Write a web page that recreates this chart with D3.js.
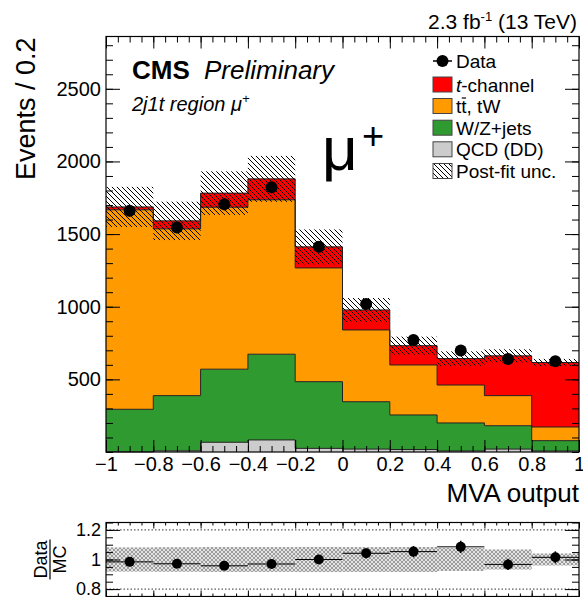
<!DOCTYPE html>
<html>
<head>
<meta charset="utf-8">
<script src="https://cdn.jsdelivr.net/npm/d3@7"></script>
<style>
  body { margin: 0; background: #fff; }
  svg { display: block; }
</style>
</head>
<body>
<div id="chart"></div>
<script>
// Canvas size
const width = 583;
const height = 597;
const font = "'Liberation Sans', Arial, Helvetica, sans-serif";

// MVA output binning and tick labels
const binEdges = [-1, -0.8, -0.6, -0.4, -0.2, 0, 0.2, 0.4, 0.6, 0.8, 1];
const xTicks = [-1, -0.8, -0.6, -0.4, -0.2, 0, 0.2, 0.4, 0.6, 0.8, 1];
const yTicks = [500, 1000, 1500, 2000, 2500];
const ratioTicks = [0.8, 1, 1.2];

// Stacked predictions, events per bin
const qcd    = [1, 8, 67, 83, 25, 20, 17, 7, 20, 7];
const wzjets = [293, 380, 503, 590, 459, 326, 238, 193, 161, 71];
const ttbar  = [1373, 1148, 1115, 1063, 783, 494, 344, 261, 207, 94];
const tchan  = [20, 55, 97, 144, 145, 138, 133, 182, 274, 444];

// Post-fit uncertainty on the total prediction (events)
const postFitUnc = [138, 132, 150, 158, 120, 82, 62, 50, 45, 25];

// Observed data
const data = [1660, 1545, 1706, 1823, 1412, 1019, 771, 698, 640, 625];

// Legend entries
const legendNames = ["Data", "t-channel", "tt, tW", "W/Z+jets", "QCD (DD)", "Post-fit unc."];

const colors = {qcd: "#cccccc", wz: "#2f9a2f", tt: "#ff9a00", tch: "#ff0000"};

// panel positions
const plot = {left: 106, right: 579, top: 36.5, bottom: 452};
const rpad = {top: 522.5, bottom: 596.5};

const svg = d3.select("#chart")
  .append("svg")
  .attr("width", width)
  .attr("height", height)
  .attr("font-family", font);

// patterns for the uncertainty bands
const defs = svg.append("defs");
defs.append("pattern")
  .attr("id", "hatch")
  .attr("patternUnits", "userSpaceOnUse")
  .attr("width", 5).attr("height", 5)
  .append("path")
  .attr("d", "M-1,-1L6,6M-1,4L1,6M4,-1L6,1")
  .attr("stroke", "#000").attr("stroke-width", 1);

const xh = defs.append("pattern")
  .attr("id", "xhatch")
  .attr("patternUnits", "userSpaceOnUse")
  .attr("width", 4).attr("height", 4);
xh.append("rect").attr("width", 4).attr("height", 4).attr("fill", "#e2e2e2");
xh.append("path").attr("d", "M0,0L4,4M4,0L0,4")
  .attr("stroke", "#8c8c8c").attr("stroke-width", 0.8);

// scales
const x = d3.scaleLinear().domain([-1, 1]).range([plot.left, plot.right]);
const y = d3.scaleLinear().domain([0, 2860]).range([plot.bottom, plot.top]);
const yr = d3.scaleLinear().domain([0.75, 1.25]).range([rpad.bottom, rpad.top]);

// table for the stack
const rows = data.map((d, i) => ({
  lo: binEdges[i], hi: binEdges[i + 1],
  qcd: qcd[i], wz: wzjets[i], tt: ttbar[i], tch: tchan[i]
}));
const series = d3.stack().keys(["qcd", "wz", "tt", "tch"])(rows);

const stepPts = s => s.flatMap(d => [[d.data.lo, d[0], d[1]], [d.data.hi, d[0], d[1]]]);
const area = d3.area().x(p => x(p[0])).y0(p => y(p[1])).y1(p => y(p[2]));
const topLine = d3.line().x(p => x(p[0])).y(p => y(p[2]));

/* Stacked histogram */
series.forEach(s => {
  svg.append("path")
    .attr("d", area(stepPts(s)))
    .attr("fill", colors[s.key]);
});
series.forEach(s => {
  svg.append("path")
    .attr("d", topLine(stepPts(s)))
    .attr("fill", "none")
    .attr("stroke", "#222")
    .attr("stroke-width", 1);
});

const totals = rows.map(r => r.qcd + r.wz + r.tt + r.tch);

// post-fit uncertainty band
svg.selectAll(".unc")
  .data(rows)
  .enter()
  .append("rect")
    .attr("class", "unc")
    .attr("x", d => x(d.lo))
    .attr("width", d => x(d.hi) - x(d.lo))
    .attr("y", (d, i) => y(totals[i] + postFitUnc[i]))
    .attr("height", (d, i) => y(totals[i] - postFitUnc[i]) - y(totals[i] + postFitUnc[i]))
    .attr("fill", "url(#hatch)");

// data points
const centers = rows.map(r => (r.lo + r.hi) / 2);
svg.selectAll(".err")
  .data(data)
  .enter()
  .append("line")
    .attr("x1", (d, i) => x(centers[i]))
    .attr("x2", (d, i) => x(centers[i]))
    .attr("y1", d => y(d + Math.sqrt(d)))
    .attr("y2", d => y(d - Math.sqrt(d)))
    .attr("stroke", "#000").attr("stroke-width", 1.5);
svg.selectAll(".pt")
  .data(data)
  .enter()
  .append("circle")
    .attr("cx", (d, i) => x(centers[i]))
    .attr("cy", d => y(d))
    .attr("r", 6)
    .attr("fill", "#000");

/* Axes */
function drawAxis(axisFn, scale, values, size, translate, fmt, fontSize) {
  const g = svg.append("g")
    .attr("transform", translate)
    .call(axisFn(scale).tickValues(values).tickSizeInner(-size).tickSizeOuter(0)
      .tickPadding(5).tickFormat(fmt || (() => "")));
  g.select(".domain").remove();
  g.attr("font-family", font).attr("font-size", fontSize || 20);
  g.selectAll("line").attr("stroke", "#000").attr("stroke-width", 1);
  g.selectAll("text").attr("fill", "#000");
  return g;
}

const xMinor = d3.range(-1, 1.0001, 0.05).map(v => Math.round(v * 100) / 100);
const yMinor = d3.range(0, 2860, 100);
const rMinor = d3.range(0.75, 1.2501, 0.05).map(v => Math.round(v * 100) / 100);
const fmt = d3.format("");

// main panel
drawAxis(d3.axisBottom, x, xMinor, 6, `translate(0,${plot.bottom})`);
drawAxis(d3.axisBottom, x, xTicks, 12, `translate(0,${plot.bottom})`, fmt);
drawAxis(d3.axisTop, x, xMinor, 6, `translate(0,${plot.top})`);
drawAxis(d3.axisTop, x, xTicks, 12, `translate(0,${plot.top})`);
drawAxis(d3.axisLeft, y, yMinor, 7, `translate(${plot.left},0)`);
drawAxis(d3.axisLeft, y, yTicks, 14, `translate(${plot.left},0)`, fmt);
drawAxis(d3.axisRight, y, yMinor, 7, `translate(${plot.right},0)`);
drawAxis(d3.axisRight, y, yTicks, 14, `translate(${plot.right},0)`);

svg.append("rect")
  .attr("x", plot.left).attr("y", plot.top)
  .attr("width", plot.right - plot.left).attr("height", plot.bottom - plot.top)
  .attr("fill", "none").attr("stroke", "#000").attr("stroke-width", 1.2);

// axis titles
svg.append("text")
  .attr("transform", `translate(35,${plot.top + 1}) rotate(-90)`)
  .attr("text-anchor", "end")
  .attr("font-size", 27)
  .text("Events / 0.2");

svg.append("text")
  .attr("x", plot.right).attr("y", 502)
  .attr("text-anchor", "end")
  .attr("font-size", 26)
  .text("MVA output");

// header and labels
const lumi = svg.append("text")
  .attr("x", 577).attr("y", 29)
  .attr("text-anchor", "end")
  .attr("font-size", 21);
lumi.append("tspan").text("2.3 fb");
lumi.append("tspan").attr("font-size", 13).attr("dy", -8).text("-1");
lumi.append("tspan").attr("dy", 8).text(" (13 TeV)");

svg.append("text")
  .attr("x", 132).attr("y", 79)
  .attr("font-size", 26).attr("font-weight", "bold")
  .text("CMS");
svg.append("text")
  .attr("x", 204).attr("y", 79)
  .attr("font-size", 26).attr("font-style", "italic")
  .text("Preliminary");

const region = svg.append("text")
  .attr("x", 132).attr("y", 111)
  .attr("font-size", 20).attr("font-style", "italic");
region.append("tspan").text("2j1t region \u03bc");
region.append("tspan").attr("font-size", 13).attr("dy", -8).text("+");

svg.append("text")
  .attr("x", 322).attr("y", 170)
  .attr("font-size", 62)
  .text("\u03bc");
svg.append("text")
  .attr("x", 362).attr("y", 149)
  .attr("font-size", 38)
  .text("+");

/* Legend */
const legY = [61, 84.5, 106, 127.7, 149.3, 171];
const legFills = [null, colors.tch, colors.tt, colors.wz, colors.qcd, "url(#hatch)"];
const boxX = 433, boxW = 19, boxH = 15, textX = 456;

legendNames.forEach((name, i) => {
  const cy = legY[i];
  if (i === 0) {
    svg.append("line")
      .attr("x1", boxX).attr("x2", boxX + boxW)
      .attr("y1", cy).attr("y2", cy)
      .attr("stroke", "#000").attr("stroke-width", 1.5);
    svg.append("circle").attr("cx", boxX + boxW / 2).attr("cy", cy).attr("r", 6).attr("fill", "#000");
  } else {
    svg.append("rect")
      .attr("x", boxX).attr("y", cy - boxH / 2)
      .attr("width", boxW).attr("height", boxH)
      .attr("fill", legFills[i])
      .attr("stroke", "#444").attr("stroke-width", 1);
  }
  const t = svg.append("text")
    .attr("x", textX).attr("y", cy + 7)
    .attr("font-size", 19);
  if (name === "t-channel") {
    t.append("tspan").attr("font-style", "italic").text("t");
    t.append("tspan").text("-channel");
  } else {
    t.text(name);
  }
  if (name === "tt, tW") {
    const n = t.node();
    const p0 = n.getStartPositionOfChar(1).x;
    const p1 = n.getEndPositionOfChar(1).x;
    svg.append("line")
      .attr("x1", p0 + 0.5).attr("x2", p1 - 0.5)
      .attr("y1", cy - 8).attr("y2", cy - 8)
      .attr("stroke", "#000").attr("stroke-width", 1.2);
  }
});

/* Ratio panel */
const ratio = data.map((d, i) => d / totals[i]);
const relUnc = postFitUnc.map((u, i) => u / totals[i]);

svg.selectAll(".runc")
  .data(rows)
  .enter()
  .append("rect")
    .attr("x", d => x(d.lo))
    .attr("width", d => x(d.hi) - x(d.lo))
    .attr("y", (d, i) => yr(1 + relUnc[i]))
    .attr("height", (d, i) => yr(1 - relUnc[i]) - yr(1 + relUnc[i]))
    .attr("fill", "url(#xhatch)");

[0.8, 1.2].forEach(v => {
  svg.append("line")
    .attr("x1", plot.left).attr("x2", plot.right)
    .attr("y1", yr(v)).attr("y2", yr(v))
    .attr("stroke", "#333").attr("stroke-width", 1)
    .attr("stroke-dasharray", "1.5,2");
});

svg.selectAll(".rbar")
  .data(ratio)
  .enter()
  .append("line")
    .attr("x1", (d, i) => x(rows[i].lo))
    .attr("x2", (d, i) => x(rows[i].hi))
    .attr("y1", d => yr(d)).attr("y2", d => yr(d))
    .attr("stroke", "#000").attr("stroke-width", 1);
svg.selectAll(".rerr")
  .data(ratio)
  .enter()
  .append("line")
    .attr("x1", (d, i) => x(centers[i]))
    .attr("x2", (d, i) => x(centers[i]))
    .attr("y1", (d, i) => yr(d + Math.sqrt(data[i]) / totals[i]))
    .attr("y2", (d, i) => yr(d - Math.sqrt(data[i]) / totals[i]))
    .attr("stroke", "#000").attr("stroke-width", 1.5);
svg.selectAll(".rpt")
  .data(ratio)
  .enter()
  .append("circle")
    .attr("cx", (d, i) => x(centers[i]))
    .attr("cy", d => yr(d))
    .attr("r", 5)
    .attr("fill", "#000");

drawAxis(d3.axisBottom, x, xMinor, 3, `translate(0,${rpad.bottom})`);
drawAxis(d3.axisBottom, x, xTicks, 6, `translate(0,${rpad.bottom})`);
drawAxis(d3.axisTop, x, xMinor, 3, `translate(0,${rpad.top})`);
drawAxis(d3.axisTop, x, xTicks, 6, `translate(0,${rpad.top})`);
drawAxis(d3.axisLeft, yr, rMinor, 7, `translate(${plot.left},0)`);
drawAxis(d3.axisLeft, yr, ratioTicks, 14, `translate(${plot.left},0)`, fmt, 18);
drawAxis(d3.axisRight, yr, rMinor, 7, `translate(${plot.right},0)`);
drawAxis(d3.axisRight, yr, ratioTicks, 14, `translate(${plot.right},0)`);

svg.append("rect")
  .attr("x", plot.left).attr("y", rpad.top)
  .attr("width", plot.right - plot.left).attr("height", rpad.bottom - rpad.top)
  .attr("fill", "none").attr("stroke", "#000").attr("stroke-width", 1.2);

// Data / MC fraction label
const frac = svg.append("g").attr("transform", `translate(50,${yr(1)}) rotate(-90)`);
frac.append("text").attr("y", -3).attr("text-anchor", "middle").attr("font-size", 18).text("Data");
frac.append("line").attr("x1", -20).attr("x2", 20).attr("stroke", "#000").attr("stroke-width", 1.2);
frac.append("text").attr("y", 16).attr("text-anchor", "middle").attr("font-size", 18).text("MC");
</script>
</body>
</html>
